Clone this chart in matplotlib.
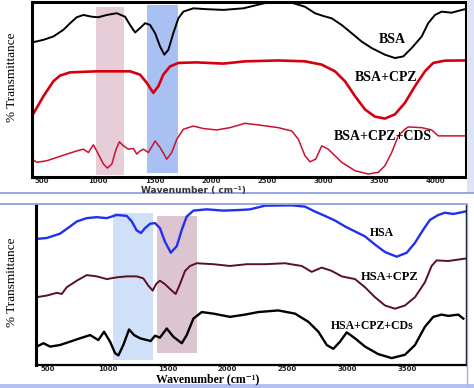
import matplotlib
import matplotlib.pyplot as plt
from matplotlib.lines import Line2D
from matplotlib.patches import Rectangle

matplotlib.use("Agg", force=True)

# ---- top panel (BSA) ----
bsa_wn = [410, 512, 600, 689, 749, 808, 867, 942, 1000, 1075, 1164, 1238, 1282,
          1327, 1371, 1416, 1460, 1505, 1549, 1587, 1623, 1667, 1712, 1756, 1845,
          1964, 2112, 2290, 2482, 2720, 2838, 2927, 3001, 3075, 3164, 3253, 3342,
          3431, 3549, 3638, 3712, 3787, 3876, 3934, 3994, 4053, 4142, 4260]
bsa_t = [76.9, 78.4, 80.3, 84.1, 87.9, 91.3, 92.6, 91.6, 91.3, 92.6, 93.6, 91.6, 86.9,
         82.6, 85.1, 87.9, 86.9, 82.2, 74.6, 69.9, 72.7, 82.2, 90.7, 94.5, 96.4,
         95.9, 95.5, 96.4, 99.4, 99.6, 97.3, 93.6, 92.0, 90.7, 86.9, 82.2, 77.4,
         73.7, 69.9, 68.0, 68.9, 73.7, 80.3, 87.9, 92.6, 94.5, 93.9, 95.9]

bsa_cpz_wn = [410, 512, 600, 660, 749, 986, 1282, 1371, 1431, 1489, 1534, 1578, 1638,
              1712, 1875, 2112, 2305, 2601, 2838, 2987, 3105, 3194, 3283, 3372, 3460,
              3549, 3638, 3727, 3816, 3905, 3979, 4083, 4260]
bsa_cpz_t = [34.8, 46.2, 54.7, 58.0, 59.8, 60.4, 60.4, 58.5, 53.8, 48.1, 51.9, 58.5, 63.2,
             65.2, 65.5, 64.8, 66.1, 66.6, 66.1, 64.2, 60.4, 54.7, 46.2, 38.6, 34.5,
             33.4, 35.8, 42.4, 51.9, 60.4, 65.2, 66.5, 66.6]

bsa_cds_wn = [410, 453, 542, 631, 720, 808, 867, 912, 956, 1000, 1045, 1081, 1120,
              1158, 1187, 1223, 1267, 1312, 1342, 1371, 1401, 1445, 1505, 1549, 1609,
              1653, 1698, 1756, 1845, 1934, 2053, 2171, 2305, 2453, 2601, 2720, 2779,
              2838, 2883, 2933, 2987, 3045, 3164, 3283, 3401, 3490, 3549, 3609, 3668,
              3727, 3756, 3876, 3964, 4023, 4260]
bsa_cds_t = [10.2, 8.4, 9.3, 11.2, 13.1, 14.9, 15.9, 14.0, 18.4, 13.1, 7.4, 5.1, 7.4,
             15.9, 20.1, 17.8, 15.9, 16.3, 13.1, 14.9, 15.9, 14.0, 20.6, 16.9, 10.2,
             14.0, 21.6, 27.3, 29.1, 27.7, 26.9, 28.2, 30.7, 29.5, 28.2, 26.3, 21.6,
             12.1, 8.7, 10.2, 17.8, 15.9, 8.4, 3.6, 1.7, 2.7, 6.4, 14.0, 23.5,
             27.3, 28.6, 28.2, 26.9, 23.5, 23.5]

# ---- bottom panel (HSA) ----
hsa_wn = [406, 490, 601, 685, 741, 824, 908, 992, 1075, 1159, 1201, 1242, 1278, 1312,
          1354, 1395, 1436, 1477, 1527, 1577, 1619, 1660, 1716, 1828, 1966, 2106,
          2190, 2315, 2538, 2649, 2733, 2816, 2900, 2984, 3067, 3151, 3234, 3318,
          3416, 3500, 3569, 3638, 3694, 3764, 3820, 3889, 3987]
hsa_t = [78.8, 79.4, 82.1, 86.6, 89.7, 91.8, 92.4, 91.8, 93.8, 93.2, 89.7, 84.1, 82.5, 85.6,
         88.3, 88.7, 85.6, 77.3, 70.2, 74.3, 84.6, 92.8, 96.5, 97.3, 96.5, 96.9,
         97.3, 99.6, 99.8, 99.0, 95.9, 93.2, 90.3, 86.6, 83.5, 80.4, 75.3, 70.6,
         67.7, 70.2, 76.4, 84.6, 90.7, 93.8, 95.2, 94.4, 95.9]

hsa_cpz_wn = [406, 490, 574, 615, 657, 741, 824, 908, 992, 1075, 1159, 1242, 1298, 1339,
              1376, 1404, 1436, 1477, 1535, 1568, 1604, 1646, 1688, 1744, 1883, 2022,
              2162, 2315, 2482, 2622, 2705, 2789, 2873, 2956, 3067, 3151, 3234, 3318,
              3402, 3485, 3569, 3652, 3708, 3750, 3847, 3987]
hsa_cpz_t = [42.4, 43.4, 45.1, 44.4, 48.6, 52.7, 56.2, 55.4, 53.7, 54.8, 55.4, 55.4, 54.1, 49.6,
             46.5, 50.6, 52.7, 50.6, 46.5, 44.4, 50.6, 58.8, 61.9, 63.6, 63.0, 61.9,
             63.0, 63.0, 63.6, 61.9, 58.2, 60.9, 58.8, 55.4, 53.7, 48.6, 42.4, 37.2,
             35.2, 37.2, 42.4, 51.7, 61.9, 65.4, 65.0, 66.5]

hsa_cds_wn = [406, 462, 518, 601, 685, 768, 852, 921, 969, 1019, 1061, 1089, 1130, 1178,
              1220, 1270, 1326, 1359, 1395, 1436, 1493, 1548, 1619, 1660, 1716, 1786,
              1883, 2022, 2148, 2259, 2426, 2566, 2677, 2761, 2831, 2886, 2942, 2998,
              3067, 3151, 3262, 3374, 3485, 3569, 3652, 3722, 3792, 3847, 3931, 3973]
hsa_cds_t = [11.5, 13.6, 11.5, 12.5, 14.6, 16.7, 18.7, 15.6, 20.8, 14.6, 7.4, 6.0, 12.5, 22.2,
             18.7, 16.7, 15.6, 15.0, 18.3, 17.1, 22.8, 17.7, 13.6, 18.7, 29.0, 33.1,
             32.1, 30.1, 31.5, 33.1, 34.1, 32.1, 27.0, 20.8, 12.5, 10.1, 14.6, 20.4,
             16.7, 11.5, 6.8, 4.3, 6.4, 12.5, 23.9, 30.1, 31.5, 30.7, 31.5, 29.0]

# highlighted regions: (wn_from, wn_to, t_from, t_to)
top_bands = [(980, 1229, 1.1, 97.3), (1436, 1712, 2.1, 98.3)]
bottom_bands = [(1042, 1381, 3.3, 95.2), (1410, 1744, 7.4, 93.2)]

top_ticks = [500, 1000, 1500, 2000, 2500, 3000, 3500, 4000]
bottom_ticks = [500, 1000, 1500, 2000, 2500, 3000, 3500]

SERIF = ["Liberation Serif", "DejaVu Serif"]
SANS = ["DejaVu Sans"]


def _style_axes(ax, xlim, ticks):
    ax.set_xlim(*xlim)
    ax.set_ylim(0, 100)
    ax.set_yticks([])
    ax.set_xticks(ticks)
    ax.set_xticklabels([str(t) for t in ticks], fontsize=5, fontweight="bold",
                       color="#222222")
    ax.tick_params(axis="x", length=0, pad=0.8)


def _band(ax, band, color):
    x0, x1, y0, y1 = band
    ax.add_patch(Rectangle((x0, y0), x1 - x0, y1 - y0, color=color, lw=0, zorder=0))


fig = plt.figure(figsize=(4.74, 3.88), dpi=100)

# top panel
ax1 = fig.add_axes([0.0675, 0.5438, 0.9156, 0.451])
_style_axes(ax1, (410, 4270), top_ticks)
for s in ax1.spines.values():
    s.set_linewidth(2.2)
    s.set_color("black")
_band(ax1, top_bands[0], "#e6cdd7")
_band(ax1, top_bands[1], "#a9c0f2")
ax1.plot(bsa_wn, bsa_t, color="black", lw=1.4)
ax1.plot(bsa_cpz_wn, bsa_cpz_t, color="#d40010", lw=1.9)
ax1.plot(bsa_cds_wn, bsa_cds_t, color="#cc1030", lw=1.1)
ax1.text(3612, 78.4, "BSA", fontsize=10, fontweight="bold", family=SERIF,
         ha="center", va="center")
ax1.text(3558, 56.8, "BSA+CPZ", fontsize=10, fontweight="bold", family=SERIF,
         ha="center", va="center")
ax1.text(3532, 23.3, "BSA+CPZ+CDS", fontsize=10, fontweight="bold", family=SERIF,
         ha="center", va="center")

# bottom panel
ax2 = fig.add_axes([0.076, 0.0593, 0.907, 0.4123])
_style_axes(ax2, (400, 3995), bottom_ticks)
ax2.spines["top"].set_visible(False)
ax2.spines["left"].set_linewidth(2.2)
ax2.spines["bottom"].set_linewidth(1.6)
ax2.spines["right"].set_linewidth(1.0)
_band(ax2, bottom_bands[0], "#d0e0f8")
_band(ax2, bottom_bands[1], "#dcc4d0")
ax2.plot(hsa_wn, hsa_t, color="#2030ee", lw=1.7)
ax2.plot(hsa_cpz_wn, hsa_cpz_t, color="#5a1020", lw=1.4)
ax2.plot(hsa_cds_wn, hsa_cds_t, color="black", lw=1.7)
ax2.text(3293, 82.7, "HSA", fontsize=8.5, fontweight="bold", family=SERIF,
         ha="center", va="center")
ax2.text(3360, 54.9, "HSA+CPZ", fontsize=9, fontweight="bold", family=SERIF,
         ha="center", va="center")
ax2.text(3210, 24.1, "HSA+CPZ+CDs", fontsize=8.5, fontweight="bold", family=SERIF,
         ha="center", va="center")

# axis titles
fig.text(0.409, 0.509, "Wavenumber ( cm\u207b\u00b9)", fontsize=6.5, fontweight="bold",
         family=SANS, color="#333333", ha="center", va="center")
fig.text(0.439, 0.0235, "Wavenumber (cm\u207b\u00b9)", fontsize=8.5, fontweight="bold",
         family=SERIF, ha="center", va="center")
fig.text(0.025, 0.80, "% Transmittance", fontsize=9.5, family=SERIF,
         rotation=90, ha="center", va="center")
fig.text(0.025, 0.273, "% Transmittance", fontsize=9.5, family=SERIF,
         rotation=90, ha="center", va="center")

# panel frames
fig.add_artist(Rectangle((0.985, 0.5026), 0.015, 0.4974, transform=fig.transFigure,
                         color="#dde3f7", lw=0))
fig.add_artist(Line2D([0, 1], [0.5026, 0.5026], transform=fig.transFigure,
                      color="#8c9fe0", lw=1.3))
fig.add_artist(Line2D([0, 0.985], [0.4755, 0.4755], transform=fig.transFigure,
                      color="#8c9fe0", lw=1.3))
fig.add_artist(Line2D([0.985, 0.985], [0.0103, 0.4755], transform=fig.transFigure,
                      color="#9eaee6", lw=1.0))
fig.add_artist(Rectangle((0, 0), 1, 0.0103, transform=fig.transFigure,
                         color="#b4c0f0", lw=0))

fig.savefig("out.png", dpi=100)
plt.close(fig)
